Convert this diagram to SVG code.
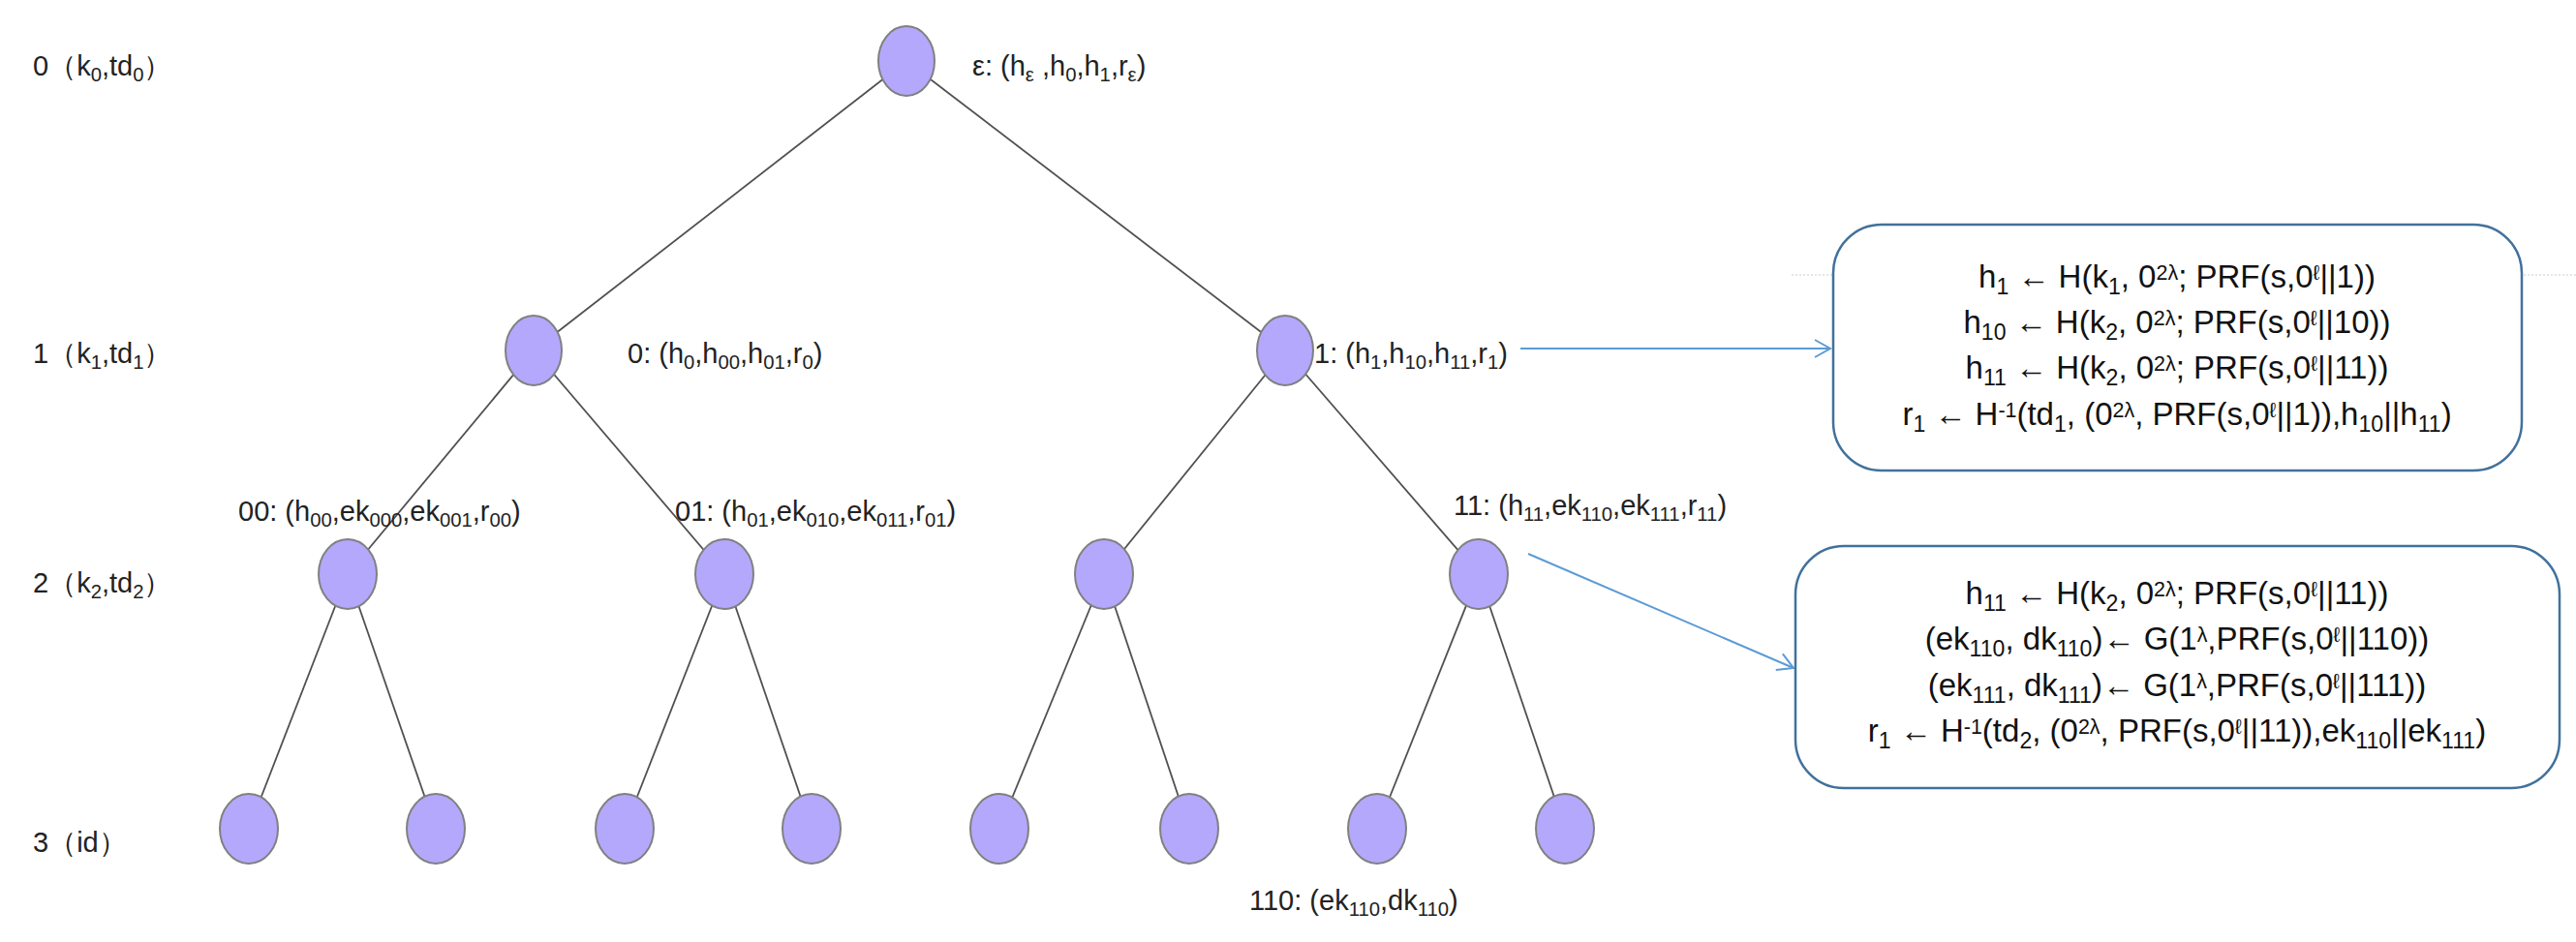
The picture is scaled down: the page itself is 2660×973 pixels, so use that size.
<svg xmlns="http://www.w3.org/2000/svg" width="2660" height="973" viewBox="0 0 2660 973">
<defs>
<style>
.n{fill:#b4a8fc;stroke:#808080;stroke-width:2}
.e{stroke:#505050;stroke-width:1.8;fill:none}
.t{font-family:"Liberation Sans",Arial,sans-serif;font-size:29px;fill:#222}
.b{font-family:"Liberation Sans",Arial,sans-serif;font-size:33px;fill:#111;text-anchor:middle}
.s{baseline-shift:-30%;font-size:70%}
.u{baseline-shift:40%;font-size:65%}
.box{fill:#fff;stroke:#41719c;stroke-width:2.5}
.a{stroke:#5b9bd5;stroke-width:2;fill:none}
</style>
<marker id="ar" markerWidth="20" markerHeight="20" refX="18" refY="10" orient="auto" markerUnits="userSpaceOnUse"><path d="M2,1 L18,10 L2,19" fill="none" stroke="#5b9bd5" stroke-width="2"/></marker>
</defs>
<rect width="2660" height="973" fill="#fff"/>
<line x1="1850" y1="284" x2="2660" y2="284" stroke="#ccc" stroke-width="1" stroke-dasharray="2,2"/>
<g id="connectors">
<line class="e" x1="936" y1="63" x2="551" y2="362"/>
<line class="e" x1="936" y1="63" x2="1327" y2="362"/>
<line class="e" x1="551" y1="362" x2="359" y2="593"/>
<line class="e" x1="551" y1="362" x2="748" y2="593"/>
<line class="e" x1="1327" y1="362" x2="1140" y2="593"/>
<line class="e" x1="1327" y1="362" x2="1527" y2="593"/>
<line class="e" x1="359" y1="593" x2="257" y2="856"/>
<line class="e" x1="359" y1="593" x2="450" y2="856"/>
<line class="e" x1="748" y1="593" x2="645" y2="856"/>
<line class="e" x1="748" y1="593" x2="838" y2="856"/>
<line class="e" x1="1140" y1="593" x2="1032" y2="856"/>
<line class="e" x1="1140" y1="593" x2="1228" y2="856"/>
<line class="e" x1="1527" y1="593" x2="1422" y2="856"/>
<line class="e" x1="1527" y1="593" x2="1616" y2="856"/>
<line class="a" x1="1570" y1="360" x2="1890" y2="360" marker-end="url(#ar)"/>
<line class="a" x1="1578" y1="572" x2="1852" y2="690" marker-end="url(#ar)"/>
</g>
<g id="levels">
<text class="t" x="34" y="78">0（k<tspan class="s">0</tspan>,td<tspan class="s">0</tspan>）</text>
<text class="t" x="34" y="375">1（k<tspan class="s">1</tspan>,td<tspan class="s">1</tspan>）</text>
<text class="t" x="34" y="612">2（k<tspan class="s">2</tspan>,td<tspan class="s">2</tspan>）</text>
<text class="t" x="34" y="880">3（id）</text>
</g>
<g id="root"><ellipse class="n" cx="936" cy="63" rx="29" ry="36"/>
<text class="t" x="1004" y="78">ε: (h<tspan class="s">ε</tspan> ,h<tspan class="s">0</tspan>,h<tspan class="s">1</tspan>,r<tspan class="s">ε</tspan>)</text></g>
<g id="n0"><ellipse class="n" cx="551" cy="362" rx="29" ry="36"/>
<text class="t" x="648" y="375">0: (h<tspan class="s">0</tspan>,h<tspan class="s">00</tspan>,h<tspan class="s">01</tspan>,r<tspan class="s">0</tspan>)</text></g>
<g id="n1"><ellipse class="n" cx="1327" cy="362" rx="29" ry="36"/>
<text class="t" x="1357" y="375">1: (h<tspan class="s">1</tspan>,h<tspan class="s">10</tspan>,h<tspan class="s">11</tspan>,r<tspan class="s">1</tspan>)</text></g>
<g id="n00"><ellipse class="n" cx="359" cy="593" rx="30" ry="36"/>
<text class="t" x="246" y="538">00: (h<tspan class="s">00</tspan>,ek<tspan class="s">000</tspan>,ek<tspan class="s">001</tspan>,r<tspan class="s">00</tspan>)</text></g>
<g id="n01"><ellipse class="n" cx="748" cy="593" rx="30" ry="36"/>
<text class="t" x="697" y="538">01: (h<tspan class="s">01</tspan>,ek<tspan class="s">010</tspan>,ek<tspan class="s">011</tspan>,r<tspan class="s">01</tspan>)</text></g>
<g id="n10"><ellipse class="n" cx="1140" cy="593" rx="30" ry="36"/></g>
<g id="n11"><ellipse class="n" cx="1527" cy="593" rx="30" ry="36"/>
<text class="t" x="1501" y="532">11: (h<tspan class="s">11</tspan>,ek<tspan class="s">110</tspan>,ek<tspan class="s">111</tspan>,r<tspan class="s">11</tspan>)</text></g>
<g id="n000"><ellipse class="n" cx="257" cy="856" rx="30" ry="36"/></g>
<g id="n001"><ellipse class="n" cx="450" cy="856" rx="30" ry="36"/></g>
<g id="n010"><ellipse class="n" cx="645" cy="856" rx="30" ry="36"/></g>
<g id="n011"><ellipse class="n" cx="838" cy="856" rx="30" ry="36"/></g>
<g id="n100"><ellipse class="n" cx="1032" cy="856" rx="30" ry="36"/></g>
<g id="n101"><ellipse class="n" cx="1228" cy="856" rx="30" ry="36"/></g>
<g id="n110"><ellipse class="n" cx="1422" cy="856" rx="30" ry="36"/>
<text class="t" x="1290" y="940">110: (ek<tspan class="s">110</tspan>,dk<tspan class="s">110</tspan>)</text></g>
<g id="n111"><ellipse class="n" cx="1616" cy="856" rx="30" ry="36"/></g>
<g id="box1"><rect class="box" x="1893" y="232" width="711" height="254" rx="50"/>
<text class="b" x="2248" y="297">h<tspan class="s">1</tspan> ← H(k<tspan class="s">1</tspan>, 0<tspan class="u">2λ</tspan>; PRF(s,0<tspan class="u">ℓ</tspan>||1))</text>
<text class="b" x="2248" y="344">h<tspan class="s">10</tspan> ← H(k<tspan class="s">2</tspan>, 0<tspan class="u">2λ</tspan>; PRF(s,0<tspan class="u">ℓ</tspan>||10))</text>
<text class="b" x="2248" y="391">h<tspan class="s">11</tspan> ← H(k<tspan class="s">2</tspan>, 0<tspan class="u">2λ</tspan>; PRF(s,0<tspan class="u">ℓ</tspan>||11))</text>
<text class="b" x="2248" y="439">r<tspan class="s">1</tspan> ← H<tspan class="u">-1</tspan>(td<tspan class="s">1</tspan>, (0<tspan class="u">2λ</tspan>, PRF(s,0<tspan class="u">ℓ</tspan>||1)),h<tspan class="s">10</tspan>||h<tspan class="s">11</tspan>)</text></g>
<g id="box2"><rect class="box" x="1854" y="564" width="789" height="250" rx="50"/>
<text class="b" x="2248" y="624">h<tspan class="s">11</tspan> ← H(k<tspan class="s">2</tspan>, 0<tspan class="u">2λ</tspan>; PRF(s,0<tspan class="u">ℓ</tspan>||11))</text>
<text class="b" x="2248" y="671">(ek<tspan class="s">110</tspan>, dk<tspan class="s">110</tspan>)← G(1<tspan class="u">λ</tspan>,PRF(s,0<tspan class="u">ℓ</tspan>||110))</text>
<text class="b" x="2248" y="719">(ek<tspan class="s">111</tspan>, dk<tspan class="s">111</tspan>)← G(1<tspan class="u">λ</tspan>,PRF(s,0<tspan class="u">ℓ</tspan>||111))</text>
<text class="b" x="2248" y="766">r<tspan class="s">1</tspan> ← H<tspan class="u">-1</tspan>(td<tspan class="s">2</tspan>, (0<tspan class="u">2λ</tspan>, PRF(s,0<tspan class="u">ℓ</tspan>||11)),ek<tspan class="s">110</tspan>||ek<tspan class="s">111</tspan>)</text></g>
</svg>
